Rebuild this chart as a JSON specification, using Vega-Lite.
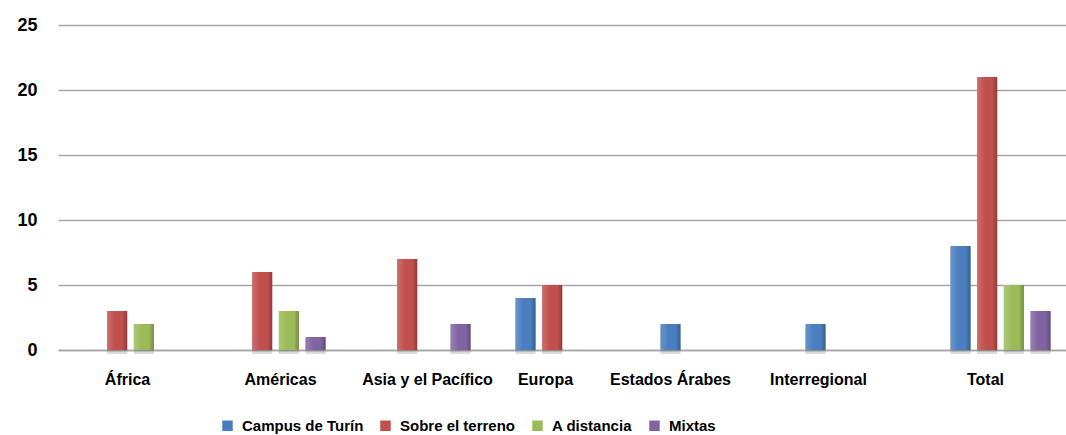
{
  "$schema": "https://vega.github.io/schema/vega-lite/v6.json",
  "autosize": {"type": "none"},
  "width": 1015,
  "height": 325,
  "padding": {"left": 58, "top": 25, "right": 0, "bottom": 85},
  "background": "white",
  "config": {
    "view": {"stroke": null},
    "font": "Liberation Sans, Arial, sans-serif"
  },
  "data": {
    "values": [
      {"region": "África", "tipo": "Campus de Turín", "valor": 0},
      {"region": "África", "tipo": "Sobre el terreno", "valor": 3},
      {"region": "África", "tipo": "A distancia", "valor": 2},
      {"region": "África", "tipo": "Mixtas", "valor": 0},
      {"region": "Américas", "tipo": "Campus de Turín", "valor": 0},
      {"region": "Américas", "tipo": "Sobre el terreno", "valor": 6},
      {"region": "Américas", "tipo": "A distancia", "valor": 3},
      {"region": "Américas", "tipo": "Mixtas", "valor": 1},
      {"region": "Asia y el Pacífico", "tipo": "Campus de Turín", "valor": 0},
      {"region": "Asia y el Pacífico", "tipo": "Sobre el terreno", "valor": 7},
      {"region": "Asia y el Pacífico", "tipo": "A distancia", "valor": 0},
      {"region": "Asia y el Pacífico", "tipo": "Mixtas", "valor": 2},
      {"region": "Europa", "tipo": "Campus de Turín", "valor": 4},
      {"region": "Europa", "tipo": "Sobre el terreno", "valor": 5},
      {"region": "Europa", "tipo": "A distancia", "valor": 0},
      {"region": "Europa", "tipo": "Mixtas", "valor": 0},
      {"region": "Estados Árabes", "tipo": "Campus de Turín", "valor": 2},
      {"region": "Estados Árabes", "tipo": "Sobre el terreno", "valor": 0},
      {"region": "Estados Árabes", "tipo": "A distancia", "valor": 0},
      {"region": "Estados Árabes", "tipo": "Mixtas", "valor": 0},
      {"region": "Interregional", "tipo": "Campus de Turín", "valor": 2},
      {"region": "Interregional", "tipo": "Sobre el terreno", "valor": 0},
      {"region": "Interregional", "tipo": "A distancia", "valor": 0},
      {"region": "Interregional", "tipo": "Mixtas", "valor": 0},
      {"region": "Total", "tipo": "Campus de Turín", "valor": 8},
      {"region": "Total", "tipo": "Sobre el terreno", "valor": 21},
      {"region": "Total", "tipo": "A distancia", "valor": 5},
      {"region": "Total", "tipo": "Mixtas", "valor": 3}
    ]
  },
  "encoding": {
    "x": {
      "field": "region", "type": "nominal",
      "sort": ["África", "Américas", "Asia y el Pacífico", "Europa", "Estados Árabes", "Interregional", "Total"],
      "scale": {"paddingInner": 0, "paddingOuter": 0},
      "axis": {
        "title": null, "labelAngle": 0, "ticks": false, "domain": true,
        "domainColor": "#a6a6a6", "domainWidth": 1.5,
        "labelFontSize": 16, "labelFontWeight": "bold", "labelColor": "#000000",
        "labelPadding": 21,
        "labelOffset": {"expr": "datum.value === 'África' ? -3 : datum.value === 'Américas' ? 5 : datum.value === 'Asia y el Pacífico' ? 7 : datum.value === 'Europa' ? -20 : datum.value === 'Estados Árabes' ? -40 : datum.value === 'Interregional' ? -37 : -15"}
      }
    },
    "xOffset": {
      "field": "tipo", "type": "nominal",
      "sort": ["Campus de Turín", "Sobre el terreno", "A distancia", "Mixtas"],
      "scale": {"paddingInner": 0.245, "paddingOuter": 0.84}
    },
    "y": {
      "field": "valor", "type": "quantitative",
      "scale": {"domain": [0, 25]},
      "axis": {
        "title": null, "values": [0, 5, 10, 15, 20, 25], "domain": false, "ticks": false,
        "gridColor": "#a6a6a6", "gridWidth": 1.5,
        "labelFontSize": 18, "labelFontWeight": "bold", "labelColor": "#000000",
        "labelPadding": 21
      }
    }
  },
  "layer": [
    {
      "transform": [{"filter": "datum.valor > 0"}],
      "mark": {"type": "bar", "fill": "#000000", "fillOpacity": 0.14, "xOffset": 4, "yOffset": 4}
    },
    {
      "mark": {"type": "bar"},
      "encoding": {
        "color": {
          "field": "tipo", "type": "nominal",
          "scale": {
            "domain": ["Campus de Turín", "Sobre el terreno", "A distancia", "Mixtas"],
            "range": ["#4a7ebf", "#c0504d", "#9bbb59", "#8064a2"]
          },
          "legend": {
            "title": null, "orient": "none", "direction": "horizontal",
            "legendX": 162, "legendY": 393,
            "symbolType": "square", "symbolSize": 110, "symbolStrokeWidth": 0,
            "labelFontSize": 15, "labelFontWeight": "bold", "labelColor": "#000000",
            "columnPadding": 14, "labelOffset": 7
          }
        }
      }
    },
    {
      "mark": {
        "type": "bar",
        "fill": {
          "gradient": "linear", "x1": 0, "x2": 1, "y1": 0, "y2": 0,
          "stops": [
            {"offset": 0, "color": "rgba(255,255,255,0.18)"},
            {"offset": 0.4, "color": "rgba(255,255,255,0.0)"},
            {"offset": 0.75, "color": "rgba(0,0,0,0.0)"},
            {"offset": 1, "color": "rgba(0,0,0,0.25)"}
          ]
        }
      }
    }
  ]
}
